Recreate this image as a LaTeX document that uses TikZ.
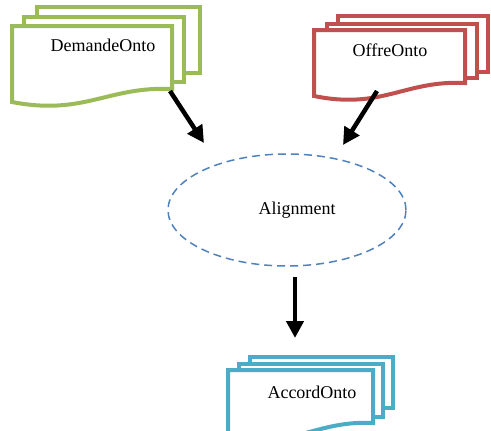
\documentclass[tikz,border=0pt]{standalone}
\usepackage{fontspec}
\setmainfont{Liberation Serif}
\usetikzlibrary{positioning, arrows.meta, shapes.geometric}

\definecolor{demgreen}{RGB}{155,187,89}
\definecolor{offred}{RGB}{192,80,77}
\definecolor{accblue}{RGB}{75,172,198}
\definecolor{alignblue}{RGB}{79,129,189}

% back sheet of a document stack: colour, left, top, right, bottom
\newcommand{\backpage}[5]{\draw[#1, line width=4pt, fill=white] (#2,#3) rectangle (#4,#5);}
% front sheet with the wavy lower edge
\newcommand{\frontpage}[5]{\draw[#1, line width=4pt, fill=white] (#2,#3) -- (#4,#3) -- (#4,#5)
    .. controls ({#4-0.4*(#4-#2)},{#5-3}) and ({#2+0.45*(#4-#2)},{#5+27}) .. (#2,{#5+13}) -- cycle;}

\begin{document}
\begin{tikzpicture}[x=1pt, y=-1pt]
    \tikzstyle{doctext} = [font=\fontsize{18}{22}\selectfont, inner sep=0pt]
    \tikzstyle{process} = [ellipse, draw=alignblue, line width=1.5pt, dash pattern=on 8pt off 5pt, minimum width=238pt, minimum height=112pt]
    \tikzstyle{arrow} = [line width=4.5pt, -{Triangle[length=17pt, width=17pt]}]

    \useasboundingbox (0,0) rectangle (491,431);

    % DemandeOnto stack
    \backpage{demgreen}{37}{7}{200}{73}
    \backpage{demgreen}{24}{17}{184}{82}
    \frontpage{demgreen}{12}{26}{172}{89}
    \node [doctext] (demande) at (103,45) {DemandeOnto};

    % OffreOnto stack
    \backpage{offred}{338}{16}{488}{72}
    \backpage{offred}{327}{24}{477}{78}
    \frontpage{offred}{314}{30}{465}{83}
    \node [doctext] (offre) at (390,50) {OffreOnto};

    % AccordOnto stack
    \backpage{accblue}{250}{357}{393}{408}
    \backpage{accblue}{239}{364}{383}{417}
    \frontpage{accblue}{228}{370}{373}{423}
    \node [doctext] (accord) at (312,392) {AccordOnto};

    \node [process] (alignment) at (287,210) {};
    \node [doctext] (alignlabel) at ([xshift=10pt]alignment.center) {Alignment};

    \coordinate (demande-out) at (170,91);
    \coordinate (alignment-in1) at (204,143);
    \coordinate (offre-out) at (377,91);
    \coordinate (alignment-in2) at (343,145);
    \coordinate (alignment-out) at (295,277);
    \coordinate (accord-in) at (295,338);

    \draw [arrow] (demande-out) -- (alignment-in1);
    \draw [arrow] (offre-out) -- (alignment-in2);
    \draw [arrow] (alignment-out) -- (accord-in);
\end{tikzpicture}
\end{document}
